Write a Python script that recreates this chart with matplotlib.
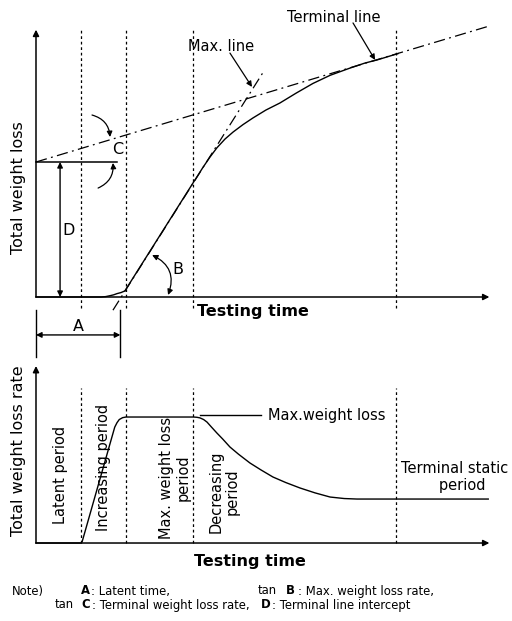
import numpy as np
import matplotlib
matplotlib.use("Agg")
import matplotlib.pyplot as plt

plt.rcParams['font.family'] = ['DejaVu Sans']

# ---- data (time units, weight units) ----
period_bounds = [2.0, 4.0, 7.0, 16.0]          # dashed period borders
t_max = 20.15                                  # end of time axis

# top: total weight loss curve
loss_t = [0, 2.9, 3.1, 3.3, 3.45, 3.6, 3.78, 3.95, 6.98, 7.2, 7.42, 7.73, 8.04, 8.4, 8.76, 9.2, 9.64,
          10.22, 10.84, 11.56, 12.31, 13.07, 13.96, 14.62, 15.16, 15.73, 16.09]
loss_y = [0, 0, 0.03, 0.1, 0.16, 0.25, 0.33, 0.45, 8.45, 9.02, 9.6, 10.36, 11.05, 11.7, 12.22, 12.77, 13.26,
          13.85, 14.37, 15.1, 15.82, 16.42, 16.96, 17.33, 17.56, 17.85, 18.03]

# terminal line: intercept D, slope tan C
term_D = 10.0
term_slope = 0.5
# max line: slope tan B, zero crossing at latent time
max_slope = 2.64
latent_A = 3.79
max_line_t = [3.42, 10.09]

# bottom: weight loss rate curve
rate_t = [0, 2.0, 2.05, 3.5, 3.6, 3.7, 3.85, 4.0, 7.0, 7.15, 7.29, 7.45, 7.6, 7.8, 8.04, 8.3, 8.62, 9.0,
          9.51, 10.0, 10.53, 11.1, 11.73, 12.4, 13.07, 13.7, 14.27, 20.1]
rate_r = [0, 0, 0.1, 9.2, 9.55, 9.8, 9.95, 10, 10, 9.98, 9.93, 9.8, 9.6, 9.2, 8.73, 8.25, 7.62, 7.05,
          6.35, 5.8, 5.24, 4.8, 4.37, 3.98, 3.65, 3.53, 3.49, 3.49]
max_rate = 10.0

period_names = ["Latent period", "Increasing period", "Max. weight loss\nperiod", "Decreasing\nperiod"]

# ---- figure ----
fig = plt.figure(figsize=(5.12, 6.21), dpi=100)
ax1 = fig.add_axes([0, 0, 1, 1])
ax2 = fig.add_axes([0, 0, 1, 1])
ax2.patch.set_alpha(0)
ax1.set_xlim(-1.6, 21.156)
ax1.set_ylim(-24, 22)
ax2.set_xlim(-1.6, 21.156)
ax2.set_ylim(-6.19, 43.1)
ax1.axis('off')
ax2.axis('off')

arr = dict(arrowstyle='-|>', color='black', lw=1.1, mutation_scale=9, shrinkA=0, shrinkB=0)
arr_thin = dict(arrowstyle='-|>', color='black', lw=0.9, mutation_scale=8, shrinkA=0, shrinkB=0)
dash = (0, (2.2, 2.2))
dashdot = (0, (9, 3.5, 1.5, 3.5))
FS = 10.5
LFS = 11.5

# ---------- top panel ----------
ax1.annotate('', xy=(t_max, 0), xytext=(0, 0), arrowprops=arr)
ax1.annotate('', xy=(0, 19.8), xytext=(0, 0), arrowprops=arr)
for tb in period_bounds:
    ax1.plot([tb, tb], [-0.8, 19.9], color='black', lw=0.9, ls=dash)

ax1.plot(loss_t, loss_y, color='black', lw=1.0)

tt = np.array([0, t_max])
ax1.plot(tt, term_D + term_slope * tt, color='black', lw=0.9, ls=dashdot)
mt = np.array(max_line_t)
ax1.plot(mt, max_slope * (mt - latent_A), color='black', lw=0.9, ls=dashdot)

# D and intercept line
ax1.plot([0, 3.6], [term_D, term_D], color='black', lw=1.1)
ax1.annotate('', xy=(1.07, term_D), xytext=(1.07, 0),
             arrowprops=dict(arrowstyle='<|-|>', color='black', lw=1.0, mutation_scale=8, shrinkA=0, shrinkB=0))
ax1.text(1.45, 4.96, 'D', fontsize=LFS, ha='center', va='center')

# C arrows
ax1.annotate('', xy=(3.29, 11.85), xytext=(2.49, 13.48),
             arrowprops=dict(arr_thin, connectionstyle='arc3,rad=-0.35'))
ax1.annotate('', xy=(3.42, 9.93), xytext=(2.76, 8.07),
             arrowprops=dict(arr_thin, connectionstyle='arc3,rad=0.35'))
ax1.text(3.62, 10.9, 'C', fontsize=LFS, ha='center', va='center')

# B arrow
ax1.annotate('', xy=(5.87, 0.15), xytext=(5.16, 3.11),
             arrowprops=dict(arrowstyle='<|-|>', color='black', lw=0.9, mutation_scale=8,
                             shrinkA=0, shrinkB=0, connectionstyle='arc3,rad=-0.45'))
ax1.text(6.3, 2.0, 'B', fontsize=LFS, ha='center', va='center')

# line labels
ax1.text(8.22, 18.52, 'Max. line', fontsize=FS, ha='center', va='center')
ax1.annotate('', xy=(9.6, 15.56), xytext=(8.62, 18.07), arrowprops=arr_thin)
ax1.text(13.24, 20.74, 'Terminal line', fontsize=FS, ha='center', va='center')
ax1.annotate('', xy=(15.07, 17.56), xytext=(14.09, 20.3), arrowprops=arr_thin)

ax1.text(-0.78, 8.1, 'Total weight loss', fontsize=LFS, rotation=90, ha='center', va='center')
ax1.text(9.64, -1.1, 'Testing time', fontsize=LFS, ha='center', va='center', fontweight='bold')

# A annotation
ax1.plot([0, 0], [-0.96, -4.44], color='black', lw=1.0)
ax1.plot([3.75, 3.75], [-0.96, -4.44], color='black', lw=1.0)
ax1.annotate('', xy=(3.75, -2.81), xytext=(0, -2.81),
             arrowprops=dict(arrowstyle='<|-|>', color='black', lw=1.0, mutation_scale=8, shrinkA=0, shrinkB=0))
ax1.text(1.87, -2.2, 'A', fontsize=LFS, ha='center', va='center')

# ---------- bottom panel ----------
ax2.annotate('', xy=(t_max, 0), xytext=(0, 0), arrowprops=arr)
ax2.annotate('', xy=(0, 14.05), xytext=(0, 0), arrowprops=arr)
for tb in period_bounds:
    ax2.plot([tb, tb], [0, 12.3], color='black', lw=0.9, ls=dash)

ax2.plot(rate_t, rate_r, color='black', lw=1.0)
ax2.plot([7.29, 10.0], [max_rate + 0.16, max_rate + 0.16], color='black', lw=1.0)
ax2.text(10.31, max_rate + 0.16, 'Max.weight loss', fontsize=FS, ha='left', va='center')

label_pos = [(1.07, 5.4), (2.98, 6.03), (6.18, 5.16), (8.36, 4.05)]
for name, (x, y) in zip(period_names, label_pos):
    ax2.text(x, y, name, fontsize=FS, rotation=90, ha='center', va='center',
             multialignment='center', linespacing=1.1)
ax2.text(18.62, 5.24, 'Terminal static\n   period', fontsize=FS, ha='center', va='center',
         linespacing=1.1)

ax2.text(-0.78, 7.3, 'Total weight loss rate', fontsize=LFS, rotation=90, ha='center', va='center')
ax2.text(9.5, -1.5, 'Testing time', fontsize=LFS, ha='center', va='center', fontweight='bold')

# ---------- note ----------
W, H = 512.0, 621.0
def ftxt(x, y, s, bold=False):
    fig.text(x / W, 1 - y / H, s, fontsize=8.4, ha='left', va='center',
             fontweight='bold' if bold else 'normal')

ftxt(12, 591, 'Note)')
ftxt(81, 591, 'A', True)
ftxt(91, 591, ': Latent time,')
ftxt(258, 591, 'tan')
ftxt(286, 591, 'B', True)
ftxt(298, 591, ': Max. weight loss rate,')
ftxt(55, 605, 'tan')
ftxt(81, 605, 'C', True)
ftxt(92, 605, ': Terminal weight loss rate,')
ftxt(261, 605, 'D', True)
ftxt(272, 605, ': Terminal line intercept')

fig.savefig('out.png', dpi=100)
